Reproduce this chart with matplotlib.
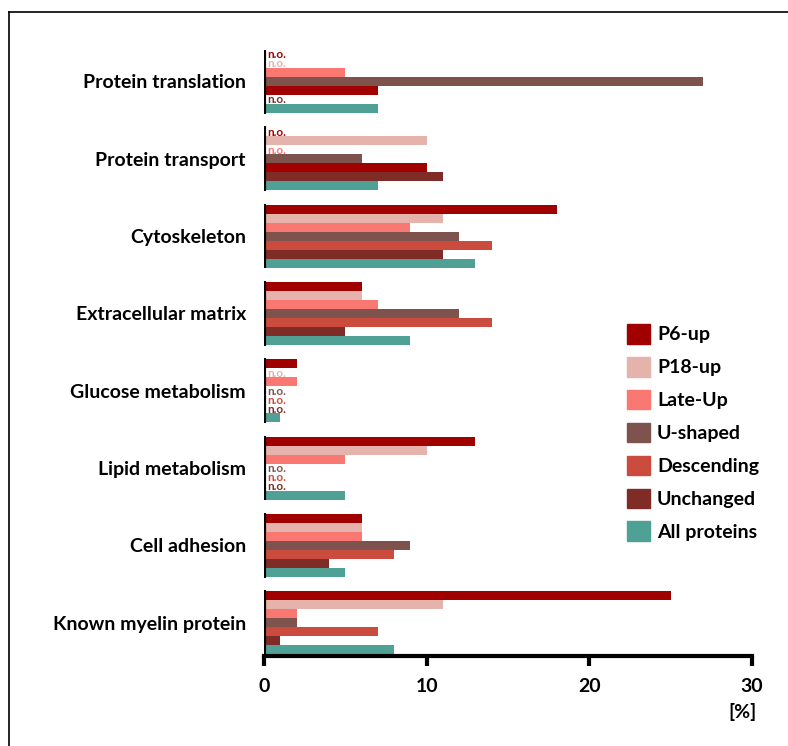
import numpy as np
import matplotlib.pyplot as plt
from matplotlib.lines import Line2D

plt.rcParams['font.family'] = ['Lato', 'DejaVu Sans']
plt.rcParams['font.weight'] = 'bold'

# Data (percent of proteins per category); None = not observed (n.o.)
categories = ['Protein translation', 'Protein transport', 'Cytoskeleton',
              'Extracellular matrix', 'Glucose metabolism', 'Lipid metabolism',
              'Cell adhesion', 'Known myelin protein']
series = ['P6-up', 'P18-up', 'Late-Up', 'U-shaped', 'Descending', 'Unchanged', 'All proteins']
p6_up = [None, None, 18, 6, 2, 13, 6, 25]
p18_up = [None, 10, 11, 6, None, 10, 6, 11]
late_up = [5, None, 9, 7, 2, 5, 6, 2]
u_shaped = [27, 6, 12, 12, None, None, 9, 2]
descending = [7, 10, 14, 14, None, None, 8, 7]
unchanged = [None, 11, 11, 5, None, None, 4, 1]
all_proteins = [7, 7, 13, 9, 1, 5, 5, 8]
values = [p6_up, p18_up, late_up, u_shaped, descending, unchanged, all_proteins]
x_ticks = [0, 10, 20, 30]

colors = ['#A00000', '#E5B2AC', '#FA7872', '#7F534D', '#CB4C3F', '#7F2C27', '#4EA194']

fig = plt.figure(figsize=(7.88, 7.46), dpi=100)
ax = fig.add_axes([264 / 788, 1 - 656 / 746, (752 - 264) / 788, (656 - 50) / 746])

period = 8.6
h = 1.0
centers = []
for i, cat in enumerate(categories):
    base = i * period
    centers.append(base + 3)
    for j, s in enumerate(series):
        v = values[j][i]
        y = base + j
        c = colors[j]
        # the original colours the Descending bar like P6-up in the first two groups
        if j == 4 and i < 2:
            c = colors[0]
        if v is None:
            ax.text(0.2, y + 0.05, 'n.o.', color=c, fontsize=8.5, fontweight='bold',
                    va='center', ha='left')
        else:
            ax.barh(y, v, height=h, color=c, linewidth=0)
    ax.vlines(0, base - 0.6, base + 6.6, color='black', linewidth=3, zorder=5)

ax.set_xlim(0, 30)
ax.set_ylim(7 * period + 6.7, -0.5)
ax.set_xticks(x_ticks)
ax.set_xticklabels([str(t) for t in x_ticks], fontsize=14, fontweight='bold')
ax.set_yticks(centers)
ax.set_yticklabels(categories, fontsize=14, fontweight='bold')
ax.tick_params(axis='y', length=0, pad=13)
ax.tick_params(axis='x', length=7, width=3, pad=9, direction='out')
for sp in ['left', 'top', 'right']:
    ax.spines[sp].set_visible(False)
ax.spines['bottom'].set_linewidth(3)

fig.text(757 / 788, 1 - 712 / 746, '[%]', fontsize=14, fontweight='bold',
         ha='right', va='center')

# legend
handles = [plt.Rectangle((0, 0), 1, 1, color=c) for c in colors]
fig.legend(handles, series, loc='upper left', bbox_to_anchor=(627 / 788, 1 - 324 / 746),
           frameon=False, handlelength=1.18, handleheight=1.18,
           labelspacing=0.68, handletextpad=0.36, borderpad=0, borderaxespad=0,
           prop={'weight': 'bold', 'size': 14})

# partial frame (top and left)
fig.add_artist(Line2D([9 / 788, 1], [1 - 12 / 746, 1 - 12 / 746], color='black', linewidth=1.2))
fig.add_artist(Line2D([9 / 788, 9 / 788], [0, 1 - 12 / 746], color='black', linewidth=1.2))

fig.savefig('out.png', dpi=100)
